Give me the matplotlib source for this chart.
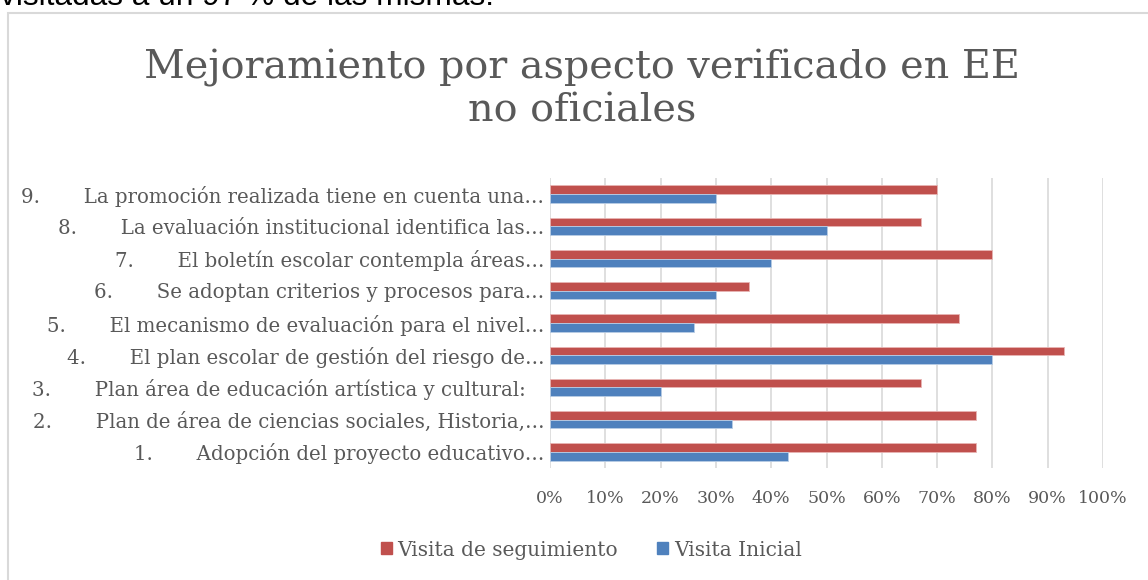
import numpy as np
import matplotlib
matplotlib.use('Agg')
import matplotlib.pyplot as plt
from matplotlib.patches import Rectangle, Patch

# datos (de abajo hacia arriba)
numeros = ['1.', '2.', '3.', '4.', '5.', '6.', '7.', '8.', '9.']
aspectos = [
    'Adopción del proyecto educativo…',
    'Plan de área de ciencias sociales, Historia,…',
    'Plan área de educación artística y cultural:   ',
    'El plan escolar de gestión del riesgo de…',
    'El mecanismo de evaluación para el nivel…',
    'Se adoptan criterios y procesos para…',
    'El boletín escolar contempla áreas…',
    'La evaluación institucional identifica las…',
    'La promoción realizada tiene en cuenta una…',
]
visita_inicial = [43, 33, 20, 80, 26, 30, 40, 50, 30]
visita_seguimiento = [77, 77, 67, 93, 74, 36, 80, 67, 70]
x_ticks = [0, 10, 20, 30, 40, 50, 60, 70, 80, 90, 100]

ROJO = '#C0504D'
AZUL = '#4F81BD'
GRIS = '#595959'
FUENTE = ['DejaVu Serif']

W, H = 1148, 580
fig = plt.figure(figsize=(W / 100, H / 100), dpi=100)

# borde del grafico (recortado por la captura)
fig.patches.append(Rectangle((8 / W, -0.1), 1.2, 1 - 13 / H + 0.1, transform=fig.transFigure,
                             fill=False, edgecolor='#D9D9D9', linewidth=1.5))

# texto del documento cortado arriba
fig.text(0, 1 - 5 / H, 'visitadas a un 97 % de las mismas.', fontsize=22.8,
         family='Liberation Sans', color='black', va='baseline', ha='left')

ax = fig.add_axes([550 / W, (H - 468) / H, (1103 - 550) / W, (468 - 178) / H])

y = np.arange(len(aspectos))
h = 0.27
ax.barh(y + h / 2, visita_seguimiento, height=h, color=ROJO, edgecolor='#E8B5B4',
        linewidth=0.6, label='Visita de seguimiento', zorder=3)
ax.barh(y - h / 2, visita_inicial, height=h, color=AZUL, edgecolor='#B9CDE5',
        linewidth=0.6, label='Visita Inicial', zorder=3)

ax.set_xlim(0, 100)
ax.set_ylim(-0.5, len(aspectos) - 0.5)
ax.set_xticks(x_ticks)
ax.set_xticklabels([f'{t}%' for t in x_ticks], fontsize=12.5, color=GRIS, family=FUENTE)
ax.set_yticks(y)
etiquetas = [f'{n}       {a}' for n, a in zip(numeros, aspectos)]
ax.set_yticklabels(etiquetas, fontsize=14.2, color=GRIS, family=FUENTE)
ax.tick_params(axis='both', length=0)
ax.tick_params(axis='x', pad=16)
ax.tick_params(axis='y', pad=4)
ax.grid(axis='x', color='#D9D9D9', linewidth=1.2, zorder=0)
for s in ax.spines.values():
    s.set_visible(False)

fig.text(582 / W, 1 - 89 / H, 'Mejoramiento por aspecto verificado en EE\nno oficiales',
         fontsize=28.6, color=GRIS, family=FUENTE, ha='center', va='center',
         linespacing=1.18)

handles = [Patch(color=ROJO, label='Visita de seguimiento'),
           Patch(color=AZUL, label='Visita Inicial')]
fig.legend(handles=handles, loc='center', bbox_to_anchor=(591 / W, 1 - 550 / H), ncol=2,
           frameon=False, prop={'family': FUENTE, 'size': 14.5}, labelcolor=GRIS,
           handlelength=0.55, handleheight=0.55, handletextpad=0.3, columnspacing=1.9)

fig.savefig('out.png', dpi=100)
